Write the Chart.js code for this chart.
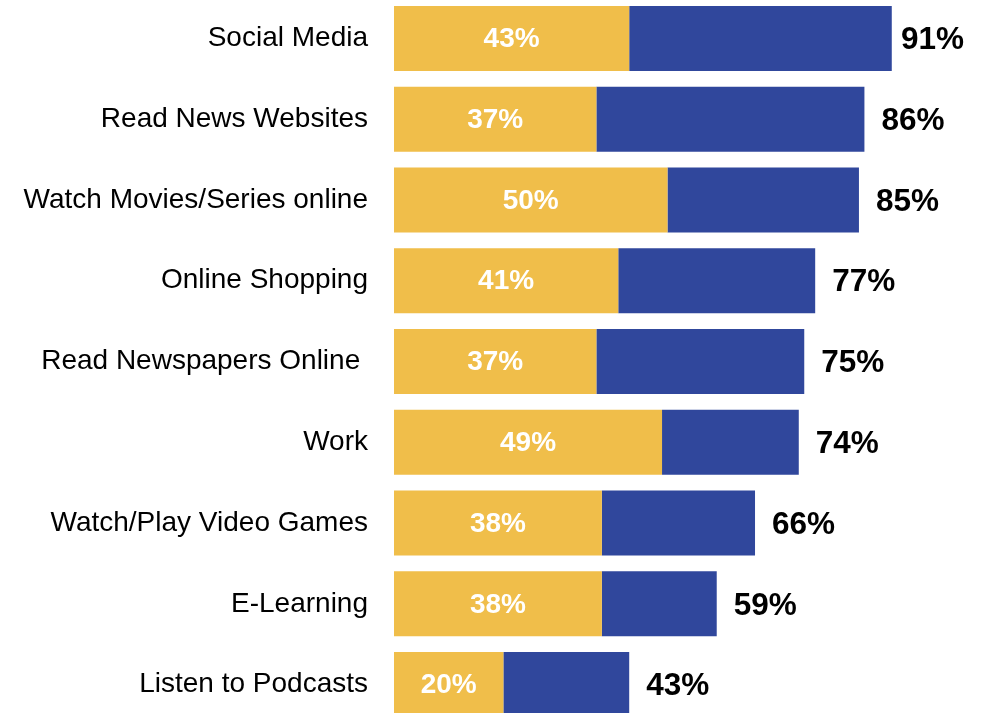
<!DOCTYPE html>
<html>
<head>
<meta charset="utf-8">
<script src="https://cdn.jsdelivr.net/npm/chart.js@4/dist/chart.umd.min.js"></script>
<style>
  html, body { margin: 0; padding: 0; background: #fff; overflow: hidden; }
  #wrap { position: relative; width: 989px; height: 713px; }
  #myChart { position: absolute; left: 0; top: -2px; }
</style>
</head>
<body>
<div id="wrap"><canvas id="myChart" width="989" height="727"></canvas></div>
<script>
// activities, share of the yellow part and the overall share
var categories = ["Social Media", "Read News Websites", "Watch Movies/Series online", "Online Shopping",
  "Read Newspapers Online ", "Work", "Watch/Play Video Games", "E-Learning", "Listen to Podcasts"];
var innerValues = [43, 37, 50, 41, 37, 49, 38, 38, 20];
var totalValues = [91, 86, 85, 77, 75, 74, 66, 59, 43];

// blue part = overall minus the yellow part
var restValues = [];
for (var i = 0; i < totalValues.length; ++i) {
  restValues.push(totalValues[i] - innerValues[i]);
}

var FONT = "'Liberation Sans', Arial, sans-serif";

// white labels inside the yellow part, bold totals after the bar
var labelPlugin = {
  id: 'barLabels',
  afterDatasetsDraw: function(chart) {
    var ctx = chart.ctx;
    var inner = chart.getDatasetMeta(0).data;
    var rest = chart.getDatasetMeta(1).data;
    ctx.save();
    ctx.textBaseline = 'middle';
    for (var i = 0; i < inner.length; ++i) {
      var b = inner[i];
      ctx.fillStyle = '#ffffff';
      ctx.font = 'bold 28px ' + FONT;
      ctx.textAlign = 'center';
      ctx.fillText(innerValues[i] + '%', (b.base + b.x) / 2, b.y + 1);

      var r = rest[i];
      var txt = totalValues[i] + '%';
      ctx.font = 'bold 31.5px ' + FONT;
      ctx.textAlign = 'left';
      ctx.fillStyle = '#000000';
      var x = r.x + 17;
      var w = ctx.measureText(txt).width;
      if (x + w > 964) x = 964 - w;
      ctx.fillText(txt, x, r.y + 2);
    }
    ctx.restore();
  }
};

var ctx = document.getElementById("myChart").getContext("2d");
var myChart = new Chart(ctx, {
  type: 'bar',
  data: {
    labels: categories,
    datasets: [
      { data: innerValues, backgroundColor: '#F0BE4A', borderWidth: 0 },
      { data: restValues, backgroundColor: '#30479C', borderWidth: 0 }
    ]
  },
  options: {
    indexAxis: 'y',
    responsive: false,
    animation: false,
    layout: { padding: { left: 0, right: 48, top: 0, bottom: 0 } },
    datasets: { bar: { categoryPercentage: 1, barPercentage: 0.805 } },
    plugins: {
      legend: { display: false },
      tooltip: { enabled: false }
    },
    scales: {
      x: {
        stacked: true, min: 0, max: 100, display: false
      },
      y: {
        stacked: true,
        grid: { display: false, drawTicks: false },
        border: { display: false },
        ticks: {
          color: '#000000',
          padding: 26,
          font: { family: FONT, size: 28 }
        },
        afterFit: function(scale) {
          scale.width = 394;
          scale.paddingTop = 0;
          scale.paddingBottom = 0;
        }
      }
    }
  },
  plugins: [labelPlugin]
});
</script>
</body>
</html>
